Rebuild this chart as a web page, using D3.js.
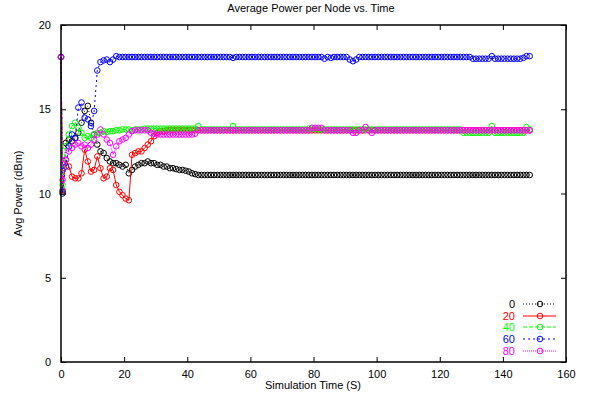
<!DOCTYPE html>
<html>
<head>
<meta charset="utf-8">
<script src="https://cdn.jsdelivr.net/npm/d3@7"></script>
<style>
  body { margin: 0; background: #fff; }
  text { font-family: "Liberation Sans", Arial, sans-serif; font-size: 11px; fill: #000; }
</style>
</head>
<body>
<div id="chart"></div>
<script>
// sampling grid: first sample at t=0, then every second at half-second offsets
var times = [0].concat(d3.range(0.5, 149, 1))

var seriesNames = ['0', '20', '40', '60', '80']

var power0 = [
  18.1,
  10.0, 13.0, 13.2, 13.1, 13.3, 13.6, 14.2, 14.9, 15.2, 14.2,
  13.5, 12.9, 12.5, 12.4, 12.1, 11.9, 11.8, 11.8, 11.7, 11.6,
  11.7, 11.2, 11.4, 11.6, 11.7, 11.8, 11.8, 11.9, 11.8, 11.8,
  11.7, 11.7, 11.6, 11.6, 11.5, 11.5, 11.45, 11.4, 11.4, 11.35,
  11.3, 11.2, 11.15, 11.1, 11.1, 11.1, 11.1, 11.1, 11.1, 11.1,
  11.1, 11.1, 11.1, 11.1, 11.1, 11.1, 11.1, 11.1, 11.1, 11.1,
  11.1, 11.1, 11.1, 11.1, 11.1, 11.1, 11.1, 11.1, 11.1, 11.1,
  11.1, 11.1, 11.1, 11.1, 11.1, 11.1, 11.1, 11.1, 11.1, 11.1,
  11.1, 11.1, 11.1, 11.1, 11.1, 11.1, 11.1, 11.1, 11.1, 11.1,
  11.1, 11.1, 11.1, 11.1, 11.1, 11.1, 11.1, 11.1, 11.1, 11.1,
  11.1, 11.1, 11.1, 11.1, 11.1, 11.1, 11.1, 11.1, 11.1, 11.1,
  11.1, 11.1, 11.1, 11.1, 11.1, 11.1, 11.1, 11.1, 11.1, 11.1,
  11.1, 11.1, 11.1, 11.1, 11.1, 11.1, 11.1, 11.1, 11.1, 11.1,
  11.1, 11.1, 11.1, 11.1, 11.1, 11.1, 11.1, 11.1, 11.1, 11.1,
  11.1, 11.1, 11.1, 11.1, 11.1, 11.1, 11.1, 11.1, 11.1
]

var power20 = [
  18.1,
  10.2, 12.0, 11.6, 11.0, 10.9, 10.9, 11.2, 12.6, 11.9, 11.3,
  11.4, 12.2, 11.5, 10.9, 11.0, 11.5, 11.4, 10.5, 10.1, 9.9,
  9.7, 9.6, 12.3, 12.4, 12.5, 12.5, 12.7, 12.9, 13.1, 13.4,
  13.6, 13.7, 13.7, 13.75, 13.75, 13.75, 13.75, 13.75, 13.75, 13.75,
  13.75, 13.75, 13.75, 13.75, 13.75, 13.75, 13.75, 13.75, 13.75, 13.75,
  13.75, 13.75, 13.75, 13.75, 13.75, 13.75, 13.75, 13.75, 13.75, 13.75,
  13.75, 13.75, 13.75, 13.75, 13.75, 13.75, 13.75, 13.75, 13.75, 13.75,
  13.75, 13.75, 13.75, 13.75, 13.75, 13.75, 13.75, 13.75, 13.75, 13.75,
  13.75, 13.75, 13.75, 13.75, 13.75, 13.75, 13.75, 13.75, 13.75, 13.75,
  13.75, 13.75, 13.75, 13.75, 13.75, 13.75, 13.75, 13.75, 13.75, 13.75,
  13.75, 13.75, 13.75, 13.75, 13.75, 13.75, 13.75, 13.75, 13.75, 13.75,
  13.75, 13.75, 13.75, 13.75, 13.75, 13.75, 13.75, 13.75, 13.75, 13.75,
  13.75, 13.75, 13.75, 13.75, 13.75, 13.75, 13.75, 13.75, 13.75, 13.75,
  13.75, 13.75, 13.75, 13.75, 13.75, 13.75, 13.75, 13.75, 13.75, 13.75,
  13.75, 13.75, 13.75, 13.75, 13.75, 13.75, 13.75, 13.75, 13.75
]

var power40 = [
  18.1,
  10.5, 12.8, 13.5, 14.0, 14.2, 13.9, 13.6, 13.3, 13.4, 13.3,
  13.5, 13.6, 13.6, 13.7, 13.65, 13.7, 13.7, 13.75, 13.75, 13.8,
  13.8, 13.8, 13.75, 13.8, 13.8, 13.8, 13.85, 13.85, 13.85, 13.85,
  13.85, 13.85, 13.85, 13.85, 13.85, 13.85, 13.85, 13.85, 13.85, 13.85,
  13.85, 13.85, 13.85, 14.0, 13.8, 13.8, 13.8, 13.8, 13.8, 13.8,
  13.8, 13.8, 13.8, 13.8, 14.0, 13.8, 13.8, 13.8, 13.8, 13.8,
  13.8, 13.8, 13.8, 13.8, 13.8, 13.8, 13.8, 13.8, 13.8, 13.8,
  13.8, 13.8, 13.8, 13.8, 13.8, 13.8, 13.8, 13.8, 13.85, 13.85,
  13.85, 13.8, 13.8, 13.8, 13.8, 13.8, 13.8, 13.8, 13.8, 13.8,
  13.8, 13.8, 13.8, 13.8, 13.8, 13.8, 13.8, 13.8, 13.8, 13.8,
  13.8, 13.8, 13.8, 13.8, 13.8, 13.8, 13.8, 13.8, 13.8, 13.8,
  13.8, 13.8, 13.8, 13.8, 13.8, 13.8, 13.8, 13.8, 13.8, 13.8,
  13.8, 13.8, 13.8, 13.8, 13.8, 13.8, 13.8, 13.6, 13.6, 13.6,
  13.6, 13.6, 13.6, 13.6, 13.6, 13.6, 14.0, 13.6, 13.6, 13.6,
  13.6, 13.6, 13.6, 13.6, 13.6, 13.6, 13.6, 13.95, 13.8
]

var power60 = [
  18.1,
  10.1, 11.6, 12.8, 13.5, 13.3, 15.1, 15.4, 14.5, 14.4, 14.0,
  14.9, 17.3, 17.8, 17.9, 17.95, 17.8, 17.95, 18.15, 18.1, 18.1,
  18.1, 18.1, 18.1, 18.1, 18.1, 18.1, 18.1, 18.1, 18.1, 18.1,
  18.1, 18.1, 18.1, 18.1, 18.1, 18.1, 18.1, 18.1, 18.1, 18.1,
  18.1, 18.1, 18.1, 18.1, 18.1, 18.1, 18.1, 18.1, 18.1, 18.1,
  18.1, 18.1, 18.1, 18.1, 18.05, 18.1, 18.1, 18.1, 18.1, 18.1,
  18.1, 18.1, 18.1, 18.1, 18.1, 18.1, 18.1, 18.1, 18.1, 18.1,
  18.1, 18.1, 18.1, 18.1, 18.1, 18.1, 18.1, 18.1, 18.1, 18.1,
  18.1, 18.1, 18.1, 18.0, 18.1, 18.05, 18.1, 18.1, 18.1, 18.1,
  18.1, 17.95, 17.85, 17.95, 18.1, 18.1, 18.1, 18.1, 18.1, 18.1,
  18.1, 18.1, 18.1, 18.1, 18.1, 18.1, 18.1, 18.1, 18.1, 18.1,
  18.1, 18.1, 18.1, 18.1, 18.1, 18.1, 18.1, 18.1, 18.1, 18.1,
  18.1, 18.1, 18.1, 18.1, 18.1, 18.1, 18.1, 18.1, 18.1, 18.1,
  18.0, 18.0, 18.0, 18.0, 18.0, 18.0, 18.15, 18.0, 18.0, 18.0,
  18.0, 18.0, 18.0, 18.0, 18.0, 18.0, 18.05, 18.15, 18.15
]

var power80 = [
  18.1,
  10.8, 12.0, 12.5, 12.7, 12.9, 13.0, 12.8, 12.9, 12.7, 12.9,
  13.2, 13.5, 13.8, 13.5, 13.2, 13.0, 12.3, 12.8, 13.1, 13.2,
  13.3, 13.5, 13.7, 13.75, 13.75, 13.75, 13.75, 13.75, 13.6, 13.55,
  13.5, 13.5, 13.5, 13.5, 13.5, 13.5, 13.5, 13.5, 13.5, 13.5,
  13.5, 13.5, 13.55, 13.75, 13.75, 13.75, 13.75, 13.75, 13.75, 13.75,
  13.75, 13.75, 13.75, 13.75, 13.75, 13.75, 13.75, 13.75, 13.75, 13.75,
  13.75, 13.75, 13.75, 13.75, 13.75, 13.75, 13.75, 13.75, 13.75, 13.75,
  13.75, 13.75, 13.75, 13.75, 13.75, 13.75, 13.75, 13.75, 13.75, 13.9,
  13.9, 13.9, 13.9, 13.75, 13.75, 13.75, 13.75, 13.75, 13.75, 13.75,
  13.75, 13.75, 13.6, 13.6, 13.75, 13.75, 13.95, 13.75, 13.6, 13.75,
  13.75, 13.75, 13.75, 13.75, 13.75, 13.75, 13.75, 13.75, 13.75, 13.75,
  13.75, 13.75, 13.75, 13.75, 13.75, 13.75, 13.75, 13.75, 13.75, 13.75,
  13.75, 13.75, 13.75, 13.75, 13.75, 13.75, 13.75, 13.75, 13.75, 13.75,
  13.75, 13.75, 13.75, 13.75, 13.75, 13.75, 13.75, 13.75, 13.75, 13.75,
  13.75, 13.75, 13.75, 13.75, 13.75, 13.75, 13.75, 13.75, 13.75
]

var xTicks = [0, 20, 40, 60, 80, 100, 120, 140, 160]
var yTicks = [0, 5, 10, 15, 20]

var colors = ['#000000', '#ff0000', '#00ff00', '#0000ff', '#ff00ff']
var dashes = ['1,2', null, '4,2', '2,3', '1,1']

var width = 589
var height = 400
var plotLeft = 61, plotRight = 566, plotTop = 25, plotBottom = 362

var x = d3.scaleLinear().domain([0, 160]).range([plotLeft, plotRight])
var y = d3.scaleLinear().domain([0, 20]).range([plotBottom, plotTop])

var svg = d3.select('#chart').append('svg')
  .attr('width', width)
  .attr('height', height)

var allSeries = [power0, power20, power40, power60, power80]

var line = d3.line()
  .x(function(d, i) { return x(times[i]) })
  .y(function(d) { return y(d) })

// lines + circle markers
allSeries.forEach(function(vals, s) {
  var g = svg.append('g')
  g.append('path')
    .attr('d', line(vals))
    .attr('fill', 'none')
    .attr('stroke', colors[s])
    .attr('stroke-width', 1)
    .attr('stroke-dasharray', dashes[s])

  g.selectAll('circle')
    .data(vals)
    .enter()
    .append('circle')
    .attr('cx', function(d, i) { return x(times[i]) })
    .attr('cy', function(d) { return y(d) })
    .attr('r', 2.8)
    .attr('fill', 'none')
    .attr('stroke', colors[s])
    .attr('stroke-width', 1)
})

// frame and ticks
svg.append('rect')
  .attr('x', plotLeft).attr('y', plotTop)
  .attr('width', plotRight - plotLeft).attr('height', plotBottom - plotTop)
  .attr('fill', 'none')
  .attr('stroke', '#000')
  .attr('stroke-width', 1.5)

svg.append('g')
  .attr('transform', 'translate(0,' + plotBottom + ')')
  .call(d3.axisBottom(x).tickValues(xTicks).tickSizeInner(-5).tickSizeOuter(0).tickPadding(8))
svg.append('g')
  .attr('transform', 'translate(0,' + plotTop + ')')
  .call(d3.axisTop(x).tickValues(xTicks).tickSizeInner(-5).tickSizeOuter(0).tickFormat(''))
svg.append('g')
  .attr('transform', 'translate(' + plotLeft + ',0)')
  .call(d3.axisLeft(y).tickValues(yTicks).tickSizeInner(-5).tickSizeOuter(0).tickPadding(10))
svg.append('g')
  .attr('transform', 'translate(' + plotRight + ',0)')
  .call(d3.axisRight(y).tickValues(yTicks).tickSizeInner(-5).tickSizeOuter(0).tickFormat(''))

svg.selectAll('.domain').remove()
svg.selectAll('.tick line').attr('stroke', '#000')
svg.selectAll('.tick text')
  .style('font-family', '"Liberation Sans", Arial, sans-serif')
  .style('font-size', '11px')
  .attr('fill', '#000')

// titles
svg.append('text')
  .attr('x', 311).attr('y', 12)
  .attr('text-anchor', 'middle')
  .text('Average Power per Node vs. Time')

svg.append('text')
  .attr('x', 313).attr('y', 389)
  .attr('text-anchor', 'middle')
  .text('Simulation Time (S)')

svg.append('text')
  .attr('transform', 'translate(22,' + ((plotTop + plotBottom) / 2) + ') rotate(-90)')
  .attr('text-anchor', 'middle')
  .text('Avg Power (dBm)')

// legend
var legendY = [304, 316, 327, 339, 351]
var leg = svg.append('g')
seriesNames.forEach(function(name, s) {
  var ly = legendY[s]
  leg.append('text')
    .attr('x', 515).attr('y', ly + 4)
    .attr('text-anchor', 'end')
    .style('fill', colors[s])
    .style('font-size', '11px')
    .text(name)
  leg.append('line')
    .attr('x1', 523).attr('x2', 556)
    .attr('y1', ly).attr('y2', ly)
    .attr('stroke', colors[s])
    .attr('stroke-dasharray', dashes[s])
  leg.append('circle')
    .attr('cx', 540).attr('cy', ly)
    .attr('r', 2.8)
    .attr('fill', 'none')
    .attr('stroke', colors[s])
})
</script>
</body>
</html>
